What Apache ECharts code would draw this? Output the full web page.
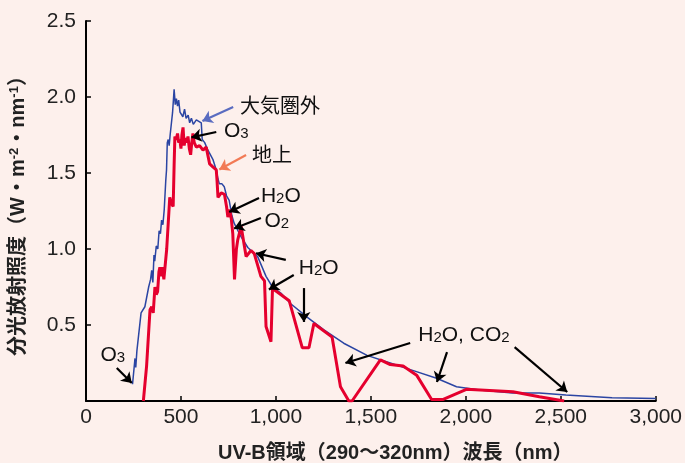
<!DOCTYPE html>
<html>
<head>
<meta charset="utf-8">
<script src="https://cdn.jsdelivr.net/npm/echarts@6/dist/echarts.min.js"></script>
<style>html,body{margin:0;padding:0;background:#fdf0ec;}#c{width:685px;height:463px;}</style>
</head>
<body>
<div id="c"></div>
<script>
// Extraterrestrial (大気圏外) spectrum: wavelength (nm), irradiance
const blueWl = [245,258,262,268,290,300,310,330,340,346,352,358,362,370,378,385,392,398,405,412,420,424,428,433,438,443,450,456,464,470,476,482,488,495,503,510,519,527,538,546,555,565,581,607,612,625,642,668,686,695,702,715,728,740,754,768,780,800,817,852,904,948,982,1026,1078,1166,1251,1357,1480,1602,1724,1846,1951,2073,2246,2387,2527,2770,3000];
const blueIrr = [0.11,0.28,0.22,0.33,0.58,0.58,0.62,0.75,0.80,0.86,0.78,0.96,0.92,1.02,1.00,1.12,1.10,1.19,1.16,1.26,1.45,1.52,1.70,1.72,1.68,1.75,1.74,1.90,2.05,1.95,1.99,1.94,1.98,1.90,1.91,1.87,1.92,1.86,1.88,1.83,1.86,1.82,1.85,1.83,1.72,1.70,1.65,1.59,1.52,1.46,1.43,1.43,1.41,1.35,1.32,1.22,1.17,1.12,1.08,1.01,0.95,0.82,0.75,0.71,0.64,0.55,0.47,0.38,0.30,0.25,0.20,0.15,0.094,0.072,0.052,0.052,0.039,0.022,0.017];
// Ground (地上) spectrum
const redWl = [302,319,337,346,354,363,370,377,384,389,396,402,410,415,425,441,450,459,464,468,475,482,488,494,500,505,511,517,523,530,537,544,551,557,563,570,581,598,616,633,651,668,686,690,695,712,729,740,747,756,765,773,782,792,799,817,830,843,856,869,886,921,940,948,974,982,1070,1139,1174,1200,1296,1340,1384,1401,1550,1602,1670,1741,1820,1881,2003,2248,2387,2518];
const redIrr = [0,0.23,0.60,0.62,0.58,0.75,0.70,0.72,0.85,0.88,0.82,0.88,0.80,0.80,1.00,1.34,1.30,1.28,1.55,1.74,1.72,1.76,1.70,1.72,1.66,1.75,1.80,1.68,1.73,1.70,1.74,1.66,1.62,1.70,1.76,1.70,1.67,1.68,1.65,1.67,1.56,1.54,1.52,1.45,1.34,1.37,1.36,1.28,1.21,1.26,1.20,1.10,0.80,1.00,1.06,1.15,1.05,0.95,0.97,0.99,0.97,0.82,0.79,0.49,0.39,0.74,0.66,0.35,0.35,0.51,0.42,0.094,0,0,0.27,0.24,0.23,0.17,0.01,0.01,0.077,0.061,0.028,0];
const xTicks = [0,500,1000,1500,2000,2500,3000];
const yTicks = [0,0.5,1.0,1.5,2.0,2.5];

// annotation labels: [text(rich), x(nm), y]
const noteText = ['{c|大気圏外}','{n|O}{s|3}','{c|地上}','{n|H}{s|2}{n|O}','{n|O}{s|2}','{n|H}{s|2}{n|O}','{n|H}{s|2}{n|O, CO}{s|2}','{n|O}{s|3}'];
const noteX = [1021,791,979,1026,1005,1225,1990,141];
const noteY = [1.947,1.776,1.625,1.349,1.184,0.875,0.434,0.303];
// arrows: from -> to (head)
const arrowFrom = [[775,1.934],[686,1.770],[843,1.618],[911,1.336],[921,1.204],[1052,0.928],[1094,0.829],[1147,0.743],[1707,0.382],[1901,0.322],[2257,0.355],[162,0.217]];
const arrowTo = [[613,1.842],[555,1.734],[702,1.523],[754,1.243],[780,1.135],[895,0.972],[963,0.734],[1147,0.520],[1366,0.250],[1848,0.125],[2534,0.059],[241,0.118]];
const arrowColor = ['#5a6cc0','#000','#f27a55','#000','#000','#000','#000','#000','#000','#000','#000','#000'];

const FONT = '"Liberation Sans", "Noto Sans CJK JP", sans-serif';
const chart = echarts.init(document.getElementById('c'));
const rich = {
  n: {fontSize: 21, color: '#111', fontFamily: FONT},
  s: {fontSize: 15, color: '#111', fontFamily: FONT, verticalAlign: 'bottom'},
  c: {fontSize: 20, color: '#111', fontFamily: '"Noto Sans CJK JP", sans-serif'}
};
chart.setOption({
  animation: false,
  backgroundColor: '#fdf0ec',
  grid: {left: 84, right: 28, top: 21, bottom: 62},
  xAxis: {
    type: 'value', min: 0, max: 3000, interval: 500,
    axisLine: {lineStyle: {color: '#000', width: 2}},
    axisTick: {inside: true, length: 5, lineStyle: {color: '#000', width: 1.5}},
    splitLine: {show: false},
    axisLabel: {fontSize: 21, color: '#222', fontFamily: FONT, margin: 6,
      formatter: v => v.toLocaleString('en-US')}
  },
  yAxis: {
    type: 'value', min: 0, max: 2.5, interval: 0.5,
    axisLine: {show: true, lineStyle: {color: '#000', width: 2}},
    axisTick: {show: true, inside: true, length: 5, lineStyle: {color: '#000', width: 1.5}},
    splitLine: {show: false},
    axisLabel: {fontSize: 21, color: '#222', fontFamily: FONT, margin: 10,
      formatter: v => (v === 0 ? '' : v.toFixed(1))},
    name: '{t|分光放射照度（W・m}{u|-2}{t|・nm}{u|-1}{t|）}',
    nameLocation: 'middle', nameRotate: 90, nameGap: 58,
    nameTextStyle: {
      rich: {
        t: {fontSize: 20, fontWeight: 'bold', color: '#222', fontFamily: FONT},
        u: {fontSize: 13, fontWeight: 'bold', color: '#222', fontFamily: FONT, verticalAlign: 'top'}
      }
    }
  },
  graphic: [{
    type: 'text', left: 218, top: 443,
    style: {text: 'UV-B領域（290〜320nm）波長（nm）', fontSize: 20, fontWeight: 'bold',
      fill: '#222', fontFamily: FONT}
  }],
  series: [
    {
      type: 'line', name: '大気圏外', symbol: 'none',
      data: blueWl.map((x, i) => [x, blueIrr[i]]),
      lineStyle: {color: '#2b45a3', width: 1.5}, z: 2
    },
    {
      type: 'line', name: '地上', symbol: 'none',
      data: redWl.map((x, i) => [x, redIrr[i]]),
      lineStyle: {color: '#e5002e', width: 3}, z: 3,
      markLine: {
        silent: true, symbol: ['none', 'arrow'], symbolSize: 10,
        label: {show: false},
        lineStyle: {type: 'solid', width: 2},
        data: arrowFrom.map((f, i) => [
          {coord: f, lineStyle: {color: arrowColor[i], width: 2.2, type: 'solid'}, itemStyle: {color: arrowColor[i]}},
          {coord: arrowTo[i]}
        ])
      },
      markPoint: {
        silent: true, symbol: 'circle', symbolSize: 0,
        label: {show: true, position: 'inside', rich: rich},
        data: noteText.map((t, i) => ({coord: [noteX[i], noteY[i]], value: 0, label: {formatter: t}}))
      }
    }
  ]
});
</script>
</body>
</html>
